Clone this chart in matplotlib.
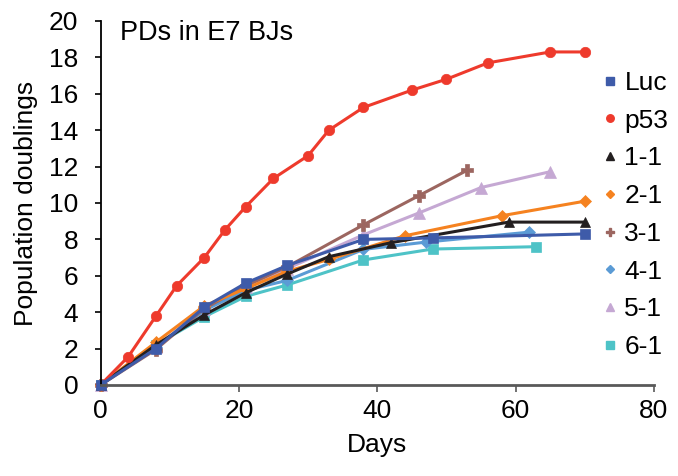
import matplotlib
matplotlib.use("Agg")
import matplotlib.pyplot as plt
from matplotlib.lines import Line2D

plt.rcParams['font.family'] = ['Liberation Sans', 'DejaVu Sans']

# Data
luc_days = [0, 8, 15, 21, 27, 38, 48, 70]
luc_vals = [0, 2.0, 4.27, 5.6, 6.57, 8.0, 8.08, 8.3]
p53_days = [0, 4, 8, 11, 15, 18, 21, 25, 30, 33, 38, 45, 50, 56, 65, 70]
p53_vals = [0, 1.55, 3.78, 5.45, 7.0, 8.53, 9.8, 11.35, 12.6, 14.0, 15.25, 16.2, 16.8, 17.7, 18.3, 18.3]
s11_days = [0, 8, 15, 21, 27, 33, 42, 59, 70]
s11_vals = [0, 2.2, 3.85, 5.07, 6.1, 7.05, 7.82, 8.95, 8.95]
s21_days = [0, 8, 15, 21, 27, 33, 44, 58, 70]
s21_vals = [0, 2.35, 4.35, 5.3, 6.25, 6.9, 8.2, 9.3, 10.1]
s31_days = [0, 8, 15, 21, 27, 38, 46, 53]
s31_vals = [0, 1.95, 4.2, 5.45, 6.5, 8.8, 10.4, 11.8]
s41_days = [0, 8, 15, 21, 27, 38, 47, 62]
s41_vals = [0, 2.1, 4.1, 5.2, 5.75, 7.45, 7.85, 8.4]
s51_days = [0, 8, 15, 21, 27, 38, 46, 55, 65]
s51_vals = [0, 2.1, 4.2, 5.4, 6.4, 8.25, 9.45, 10.85, 11.72]
s61_days = [0, 8, 15, 21, 27, 38, 48, 63]
s61_vals = [0, 2.2, 3.75, 4.87, 5.5, 6.87, 7.47, 7.6]

labels = ['Luc', 'p53', '1-1', '2-1', '3-1', '4-1', '5-1', '6-1']
xs = [luc_days, p53_days, s11_days, s21_days, s31_days, s41_days, s51_days, s61_days]
ys = [luc_vals, p53_vals, s11_vals, s21_vals, s31_vals, s41_vals, s51_vals, s61_vals]
colors = ['#3E5BA9', '#EE3A2C', '#231F20', '#F58220', '#9C6660', '#5B9BD5', '#C5A8D3', '#4EC3C7']
markers = ['s', 'o', '^', 'D', 'P', 'D', '^', 's']
msizes = [7.5, 7.5, 7.5, 6, 8, 6, 8, 7.5]

fig = plt.figure(figsize=(6.78, 4.76), dpi=100)
ax = fig.add_axes([100.5/678, 1-385/476, (654-100.5)/678, (385-21)/476])

for i in reversed(range(8)):
    ax.plot(xs[i], ys[i], color=colors[i], marker=markers[i], markersize=msizes[i],
            linewidth=2.2, clip_on=False, label=labels[i], markeredgewidth=0.5)

ax.set_xlim(0, 80)
ax.set_ylim(0, 20)
ax.set_xticks([0, 20, 40, 60, 80])
ax.set_yticks(range(0, 21, 2))
ax.tick_params(axis='both', labelsize=19, direction='out')
ax.tick_params(axis='y', length=4, width=1.2, pad=12)
ax.tick_params(axis='x', length=5, width=1.2, pad=5, color='#595959')
ax.spines['top'].set_visible(False)
ax.spines['right'].set_visible(False)
ax.spines['left'].set_linewidth(1.3)
ax.spines['bottom'].set_linewidth(2.0)
ax.spines['bottom'].set_color('#595959')

ax.set_xlabel('Days', fontsize=19, labelpad=7)
ax.set_ylabel('Population doublings', fontsize=19, labelpad=8)
fig.text(120/678, 1-33/476, 'PDs in E7 BJs', fontsize=19.5, va='center', ha='left')

leg_handles = [Line2D([], [], linestyle='none', marker=markers[i], color=colors[i],
                      markersize=msizes[i]*0.72) for i in range(8)]
fig.legend(leg_handles, labels, loc='upper left', bbox_to_anchor=(602/678, 1-71/476),
           frameon=False, fontsize=19, handlelength=0.6, handletextpad=0.25,
           labelspacing=0.52, borderpad=0, borderaxespad=0)

fig.savefig('out.png', dpi=100)
